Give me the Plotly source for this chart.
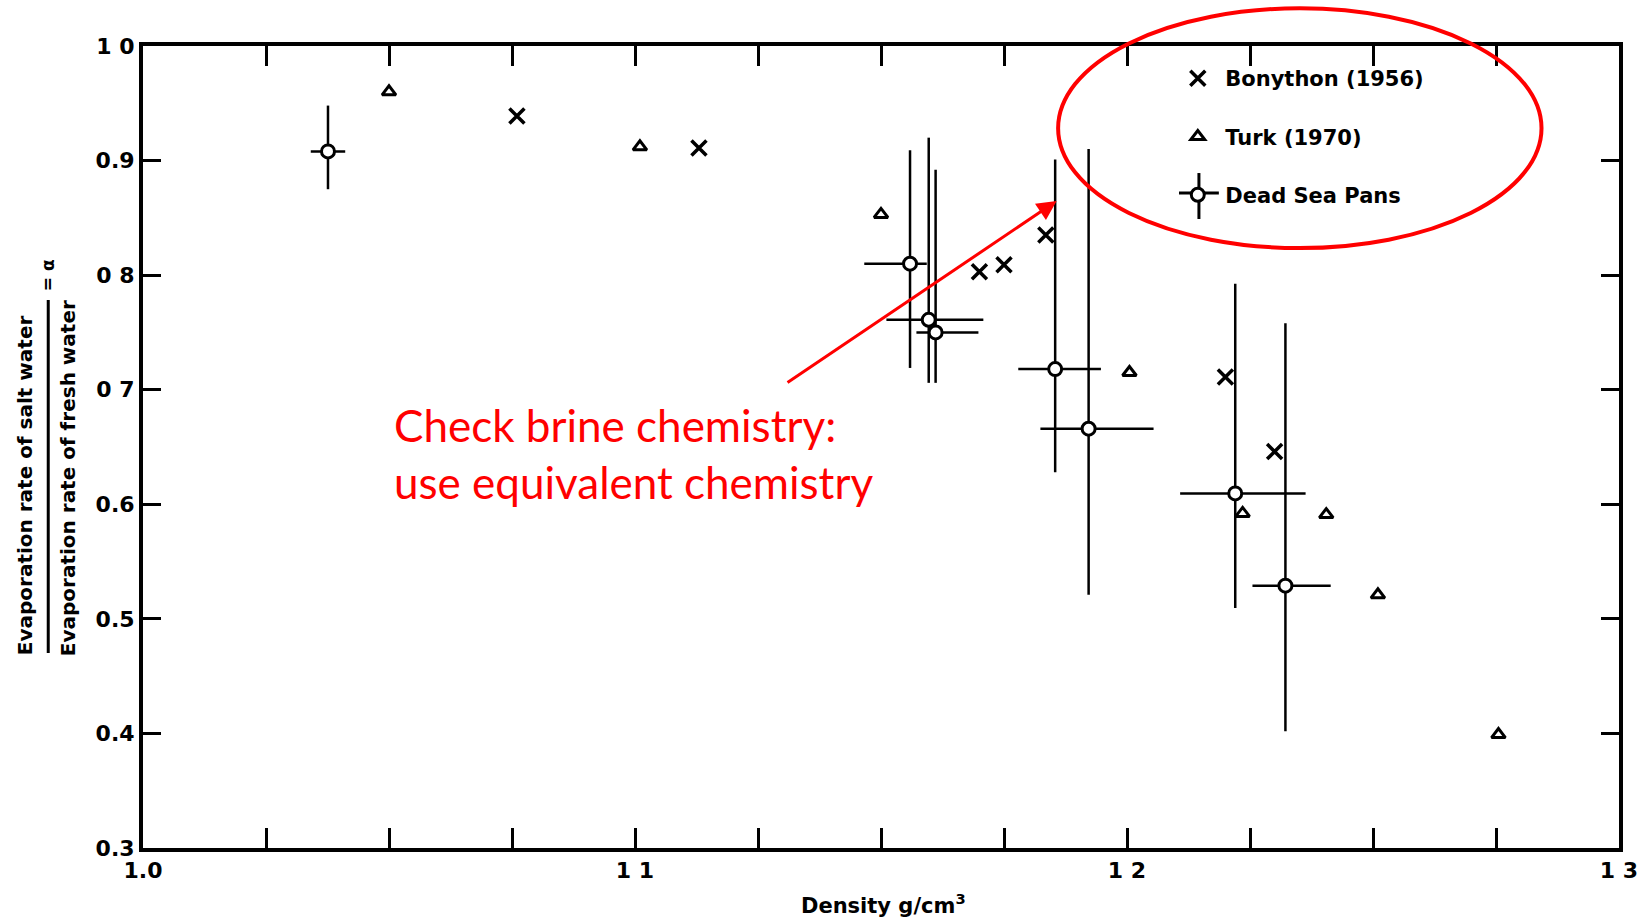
import plotly.graph_objects as go

# ---------------- data ----------------
bonython_x = [1.076, 1.113, 1.170, 1.175, 1.1835, 1.220, 1.230]
bonython_y = [0.939, 0.911, 0.803, 0.809, 0.835, 0.711, 0.646]

turk_x = [1.050, 1.101, 1.150, 1.2005, 1.2235, 1.2405, 1.251, 1.2755]
turk_y = [0.960, 0.912, 0.853, 0.715, 0.592, 0.591, 0.521, 0.399]

dsp_x = [1.0376, 1.1559, 1.1597, 1.1611, 1.1854, 1.1922, 1.2220, 1.2322]
dsp_y = [0.908, 0.810, 0.761, 0.750, 0.718, 0.666, 0.6095, 0.529]
dsp_y_plus = [0.040, 0.099, 0.159, 0.142, 0.183, 0.244, 0.183, 0.229]
dsp_y_minus = [0.033, 0.091, 0.055, 0.044, 0.090, 0.145, 0.100, 0.127]
dsp_x_plus = [0.0035, 0.0034, 0.0111, 0.0087, 0.0093, 0.0132, 0.0143, 0.0092]
dsp_x_minus = [0.0035, 0.0093, 0.0086, 0.0039, 0.0075, 0.0098, 0.0112, 0.0067]

x_tickvals = [1.0 + 0.025 * i for i in range(13)]
x_ticklabels = {0: "1.0", 4: "1 1", 8: "1 2", 12: "1 3"}
y_tickvals = [0.3, 0.4, 0.5, 0.6, 0.7, 0.8, 0.9, 1.0]
y_ticktext = ["0.3", "0.4", "0.5", "0.6", "0 7", "0 8", "0.9", "1 0"]

FONT = "DejaVu Sans"

fig = go.Figure()

fig.add_trace(go.Scatter(
    x=bonython_x, y=bonython_y, mode="markers", name="Bonython (1956)",
    legendgroup="a",
    marker=dict(symbol="x-thin-open", size=15, color="black",
                line=dict(color="black", width=3.5)),
))
fig.add_trace(go.Scatter(
    x=turk_x, y=turk_y, mode="markers", name="Turk (1970)",
    legendgroup="b",
    marker=dict(symbol="triangle-up-open", size=12, color="black",
                line=dict(color="black", width=3)),
))
fig.add_trace(go.Scatter(
    x=dsp_x, y=dsp_y, mode="markers", name="Dead Sea Pans",
    legendgroup="c",
    marker=dict(symbol="circle", size=13, color="white",
                line=dict(color="black", width=3)),
    error_y=dict(type="data", symmetric=False, array=dsp_y_plus,
                 arrayminus=dsp_y_minus, color="black", thickness=2.5, width=0),
    error_x=dict(type="data", symmetric=False, array=dsp_x_plus,
                 arrayminus=dsp_x_minus, color="black", thickness=2.5, width=0),
))

fig.update_xaxes(
    range=[1.0, 1.3], tickmode="array", tickvals=x_tickvals,
    ticktext=[x_ticklabels.get(i, "") for i in range(len(x_tickvals))],
    ticks="inside", ticklen=20, tickwidth=3, tickcolor="black",
    showline=True, linewidth=4, linecolor="black", mirror="ticks",
    showgrid=False, zeroline=False, automargin=False,
    ticklabeloverflow="allow",
    tickfont=dict(family=FONT, size=22, color="black", weight="bold"),
)
fig.update_yaxes(
    range=[0.3, 1.0], tickmode="array", tickvals=y_tickvals, ticktext=y_ticktext,
    ticks="inside", ticklen=18, tickwidth=3, tickcolor="black",
    showline=True, linewidth=4, linecolor="black", mirror="ticks",
    showgrid=False, zeroline=False, automargin=False,
    ticklabeloverflow="allow",
    tickfont=dict(family=FONT, size=22, color="black", weight="bold"),
)

# x-axis title
fig.add_annotation(xref="paper", yref="paper", x=0.5017, y=-0.0698,
                   xanchor="center", yanchor="middle", showarrow=False,
                   text="Density g/cm<sup>3</sup>",
                   font=dict(family=FONT, size=21, color="black", weight="bold"))

# y-axis title as a fraction
TFONT = dict(family=FONT, size=20, color="black", weight="bold")
fig.add_annotation(xref="paper", yref="paper", x=-0.0798, y=0.4526,
                   xanchor="center", yanchor="middle",
                   text="Evaporation rate of salt water", textangle=-90,
                   showarrow=False, font=TFONT)
fig.add_annotation(xref="paper", yref="paper", x=-0.0507, y=0.4613,
                   xanchor="center", yanchor="middle",
                   text="Evaporation rate of fresh water", textangle=-90,
                   showarrow=False, font=TFONT)
fig.add_annotation(xref="paper", yref="paper", x=-0.0642, y=0.7145,
                   xanchor="center", yanchor="middle",
                   text="= α", textangle=-90, showarrow=False,
                   font=dict(family=FONT, size=17, color="black", weight="bold"))
fig.add_shape(type="line", xref="paper", yref="paper",
              x0=-0.0642, x1=-0.0642, y0=0.2431, y1=0.6833,
              line=dict(color="black", width=3))

# red note
fig.add_annotation(xref="paper", yref="paper", x=0.1690, y=0.4925,
                   xanchor="left", yanchor="middle", align="left",
                   text="Check brine chemistry:<br>use equivalent chemistry",
                   showarrow=False,
                   font=dict(family="Lato", size=44, color="#ff0000"))
fig.add_annotation(xref="x", yref="y", axref="x", ayref="y",
                   x=1.1857, y=0.8647, ax=1.1307, ay=0.7055,
                   text="", showarrow=True, arrowhead=2, arrowsize=1.3,
                   arrowwidth=3, arrowcolor="#ff0000")
fig.add_shape(type="circle", xref="paper", yref="paper",
              x0=0.6200, x1=0.9475, y0=0.748, y1=1.047,
              line=dict(color="#ff0000", width=4))

# error-bar cross for the "Dead Sea Pans" legend symbol
fig.add_shape(type="line", xref="paper", yref="paper", layer="above",
              x0=0.7154, x1=0.7154, y0=0.7843, y1=0.8416,
              line=dict(color="black", width=3))
fig.add_shape(type="line", xref="paper", yref="paper", layer="above",
              x0=0.7019, x1=0.7289, y0=0.8167, y1=0.8167,
              line=dict(color="black", width=3))

fig.update_layout(
    width=1637, height=920,
    margin=dict(l=143, r=18, t=46, b=72, autoexpand=False),
    paper_bgcolor="white", plot_bgcolor="white",
    showlegend=True,
    legend=dict(x=0.696, y=0.985, xanchor="left", yanchor="top",
                bgcolor="rgba(0,0,0,0)", traceorder="grouped",
                tracegroupgap=28, itemwidth=45,
                font=dict(family=FONT, size=21, color="black", weight="bold")),
)

fig.write_html("out.html")
